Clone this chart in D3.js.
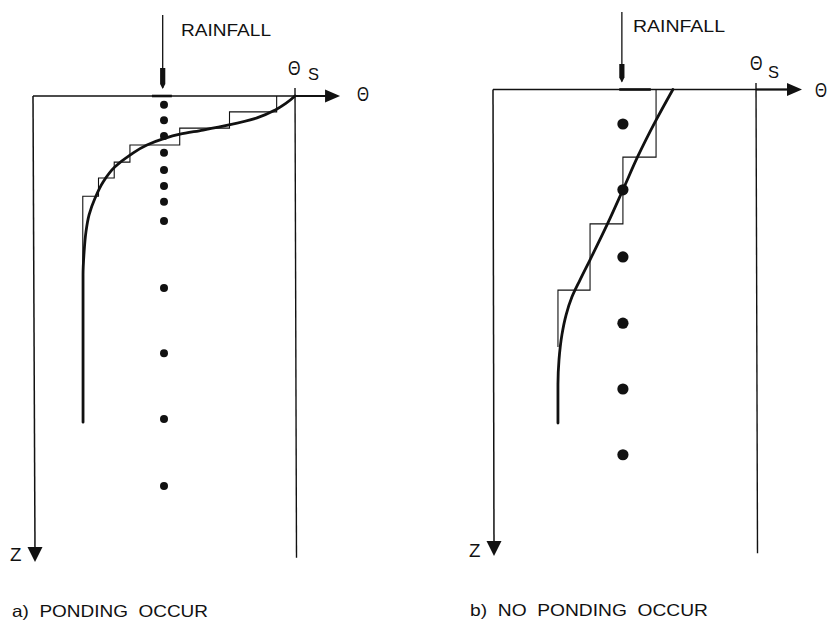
<!DOCTYPE html>
<html>
<head>
<meta charset="utf-8">
<script src="https://cdn.jsdelivr.net/npm/d3@7"></script>
<style>
  html, body { margin: 0; padding: 0; background: #fff; }
  svg { display: block; }
  text { font-family: "Liberation Sans", Arial, sans-serif; fill: #111; }
</style>
</head>
<body>
<script>
// ---------------- DATA (theta relative to theta_s = 1, depth z in % of axis length) ----------------
// Panel a) ponding occurs
const aNodeTheta = 0.50;
const aNodeZ = [1.9, 5.2, 8.6, 12.2, 15.9, 19.3, 22.7, 26.8, 41.2, 55.2, 69.3, 83.7];
const aStepBounds = [0, 3.4, 6.9, 10.5, 14.2, 17.6, 21.5, 70.0];
const aStepTheta = [0.93, 0.75, 0.56, 0.37, 0.31, 0.25, 0.19];
const aCurveTheta = [1.0, 0.965, 0.925, 0.855, 0.748, 0.649, 0.561, 0.496, 0.435, 0.370, 0.313, 0.267, 0.237, 0.214, 0.202, 0.195, 0.191, 0.191];
const aCurveZ = [0, 1.6, 3.0, 4.7, 6.2, 7.3, 8.2, 9.2, 10.5, 12.7, 15.2, 18.5, 21.9, 25.5, 29.2, 33.5, 38.4, 70.0];

// Panel b) no ponding occurs
const bNodeTheta = 0.494;
const bNodeZ = [7.4, 21.5, 35.9, 50.1, 64.2, 78.3];
const bStepBounds = [0, 14.5, 28.8, 43.0, 55.2];
const bStepTheta = [0.62, 0.494, 0.369, 0.247];
const bCurveTheta = [0.684, 0.616, 0.551, 0.494, 0.437, 0.369, 0.331, 0.300, 0.278, 0.262, 0.251, 0.247, 0.247];
const bCurveZ = [0, 7.0, 14.3, 21.5, 28.6, 36.5, 40.8, 44.5, 48.3, 52.6, 57.9, 63.2, 71.5];

// Labels
const rainLabel = "RAINFALL";
const thetaLabel = "Θ";
const thetaSubLabel = "S";
const zLabel = "Z";
const captions = ["a)  PONDING  OCCUR", "b)  NO  PONDING  OCCUR"];

// ---------------- LAYOUT ----------------
const W = 831, H = 624;
const svg = d3.select("body").append("svg").attr("width", W).attr("height", H);
svg.append("rect").attr("width", W).attr("height", H).attr("fill", "#fff");

const panels = [
  {
    x: d3.scaleLinear().domain([0, 1]).range([33, 295]),
    z: d3.scaleLinear().domain([0, 100]).range([96, 562]),
    zBottomShift: 2,
    nodeTheta: aNodeTheta, nodeZ: aNodeZ, nodeR: 4,
    stepBounds: aStepBounds, stepTheta: aStepTheta,
    curveTheta: aCurveTheta, curveZ: aCurveZ,
    thetaMax: 1.172, thetaSTop: -1.7, thetaSBottom: 99.1,
    rainTheta: 0.495, rainTop: 15, rainHeadTop: 68,
    surf: [0.454, 0.53],
    rain: {x: 181, y: 36, len: 90},
    Th: {x: 288, y: 75}, S: {x: 308, y: 80}, th: {x: 357, y: 101},
    Z: {x: 10, y: 561},
    cap: {x: 12, y: 617, len: 196, text: captions[0]}
  },
  {
    x: d3.scaleLinear().domain([0, 1]).range([493, 756]),
    z: d3.scaleLinear().domain([0, 100]).range([89.5, 556]),
    zBottomShift: 1,
    nodeTheta: bNodeTheta, nodeZ: bNodeZ, nodeR: 5.6,
    stepBounds: bStepBounds, stepTheta: bStepTheta,
    curveTheta: bCurveTheta, curveZ: bCurveZ,
    thetaMax: 1.175, thetaSTop: -1.4, thetaSBottom: 99.4,
    rainTheta: 0.49, rainTop: 12, rainHeadTop: 64,
    surf: [0.48, 0.60],
    rain: {x: 633, y: 32, len: 92},
    Th: {x: 750, y: 70}, S: {x: 768, y: 78}, th: {x: 815, y: 97},
    Z: {x: 469, y: 557},
    cap: {x: 470, y: 616, len: 238, text: captions[1]}
  }
];

panels.forEach(p => {
  const g = svg.append("g");
  const x = p.x, z = p.z;
  const x0 = x(0), y0 = z(0);

  // theta axis (top)
  const tipX = x(p.thetaMax);
  g.append("line").attr("x1", x0).attr("y1", y0).attr("x2", tipX - 10).attr("y2", y0)
    .attr("stroke", "#111").attr("stroke-width", 1.5);
  g.append("line").attr("x1", x(1)).attr("y1", y0).attr("x2", tipX - 10).attr("y2", y0)
    .attr("stroke", "#111").attr("stroke-width", 2.2);
  g.append("path").attr("d", `M${tipX},${y0} L${tipX - 15},${y0 - 6.5} L${tipX - 15},${y0 + 6.5} Z`)
    .attr("fill", "#111");

  // z axis (left)
  const zTip = z(100);
  const xb = x0 + p.zBottomShift;
  g.append("line").attr("x1", x0).attr("y1", y0).attr("x2", xb).attr("y2", zTip - 10)
    .attr("stroke", "#111").attr("stroke-width", 1.5);
  g.append("path").attr("d", `M${xb},${zTip} L${xb - 7.5},${zTip - 15} L${xb + 7.5},${zTip - 15} Z`)
    .attr("fill", "#111");

  // theta_s vertical line
  g.append("line").attr("x1", x(1)).attr("y1", z(p.thetaSTop)).attr("x2", x(1) + 1.5).attr("y2", z(p.thetaSBottom))
    .attr("stroke", "#111").attr("stroke-width", 1.4);

  // surface segment under rainfall
  g.append("line").attr("x1", x(p.surf[0])).attr("y1", y0).attr("x2", x(p.surf[1])).attr("y2", y0)
    .attr("stroke", "#111").attr("stroke-width", 2.6);

  // rainfall arrow
  const rx = x(p.rainTheta);
  g.append("line").attr("x1", rx).attr("y1", p.rainTop).attr("x2", rx).attr("y2", y0 - 8)
    .attr("stroke", "#111").attr("stroke-width", 1.3);
  g.append("path")
    .attr("d", `M${rx - 2.6},${p.rainHeadTop} L${rx + 2.6},${p.rainHeadTop} L${rx + 2.6},${y0 - 12} L${rx},${y0 - 7} L${rx - 2.6},${y0 - 12} Z`)
    .attr("fill", "#111");

  // step (discretised) profile
  const stepPts = [];
  p.stepTheta.forEach((t, i) => {
    stepPts.push([t, p.stepBounds[i]]);
    stepPts.push([t, p.stepBounds[i + 1]]);
  });
  g.append("path").datum(stepPts)
    .attr("d", d3.line().x(d => x(d[0])).y(d => z(d[1])))
    .attr("fill", "none").attr("stroke", "#111").attr("stroke-width", 1.1);

  // continuous profile
  const curvePts = p.curveTheta.map((t, i) => [t, p.curveZ[i]]);
  g.append("path").datum(curvePts)
    .attr("d", d3.line().x(d => x(d[0])).y(d => z(d[1])).curve(d3.curveMonotoneY))
    .attr("fill", "none").attr("stroke", "#111").attr("stroke-width", 2.8)
    .attr("stroke-linecap", "round");

  // nodes
  g.selectAll("circle.node").data(p.nodeZ).enter().append("circle")
    .attr("class", "node")
    .attr("cx", x(p.nodeTheta)).attr("cy", d => z(d)).attr("r", p.nodeR)
    .attr("fill", "#111");

  // texts
  g.append("text").attr("x", p.rain.x).attr("y", p.rain.y).attr("font-size", 16.5)
    .attr("textLength", p.rain.len).attr("lengthAdjust", "spacingAndGlyphs").text(rainLabel);
  g.append("text").attr("x", p.Th.x).attr("y", p.Th.y).attr("font-size", 21)
    .attr("textLength", 12.5).attr("lengthAdjust", "spacingAndGlyphs").text(thetaLabel);
  g.append("text").attr("x", p.S.x).attr("y", p.S.y).attr("font-size", 16.5)
    .attr("textLength", 11).attr("lengthAdjust", "spacingAndGlyphs").text(thetaSubLabel);
  g.append("text").attr("x", p.th.x).attr("y", p.th.y).attr("font-size", 21)
    .attr("textLength", 12).attr("lengthAdjust", "spacingAndGlyphs").text(thetaLabel);
  g.append("text").attr("x", p.Z.x).attr("y", p.Z.y).attr("font-size", 17.5)
    .attr("textLength", 11.5).attr("lengthAdjust", "spacingAndGlyphs").text(zLabel);
  g.append("text").attr("x", p.cap.x).attr("y", p.cap.y).attr("font-size", 16.5)
    .attr("textLength", p.cap.len).attr("lengthAdjust", "spacingAndGlyphs")
    .attr("xml:space", "preserve").style("white-space", "pre").text(p.cap.text);
});
</script>
</body>
</html>
